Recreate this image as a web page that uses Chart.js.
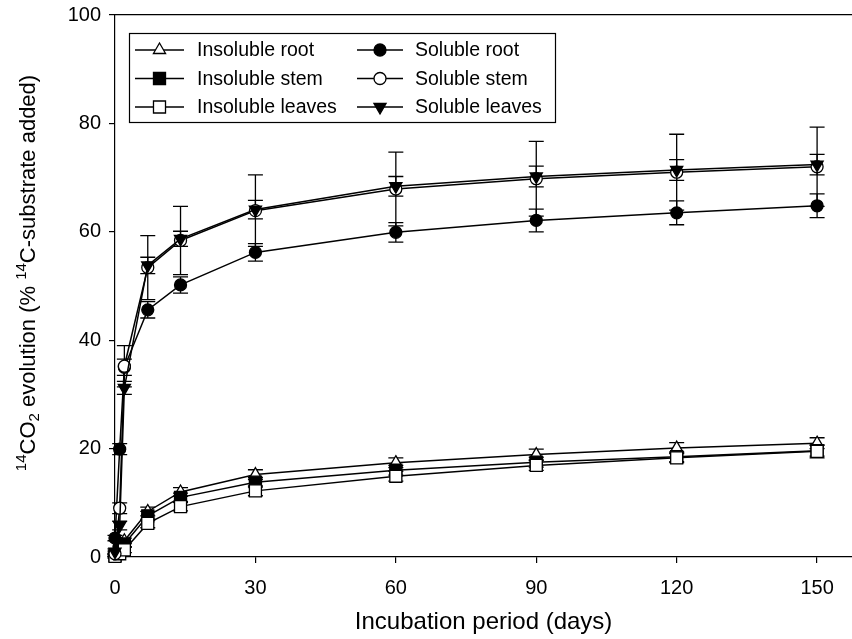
<!DOCTYPE html>
<html><head><meta charset="utf-8">
<style>html,body{margin:0;padding:0;background:#fff;overflow:hidden;width:852px;height:639px;}</style>
<script src="https://cdn.jsdelivr.net/npm/chart.js@4.4.1/dist/chart.umd.min.js"></script>
</head><body>
<canvas id="c" width="862" height="639"></canvas>
<script>
// ---- data ----
const days = [0, 1, 2, 7, 14, 30, 60, 90, 120, 150];
const xTickValues = [0, 30, 60, 90, 120, 150];
const yTickValues = [0, 20, 40, 60, 80, 100];
const seriesNames = ["Insoluble root", "Insoluble stem", "Insoluble leaves", "Soluble root", "Soluble stem", "Soluble leaves"];
const insolubleRoot   = [0.4, 1.6, 3.0, 8.4, 12.0, 15.2, 17.4, 18.9, 20.1, 21.0];
const insolubleStem   = [0.3, 1.2, 2.4, 7.6, 11.0, 13.8, 16.0, 17.5, 18.5, 19.6];
const insolubleLeaves = [0.1, 0.6, 1.3, 6.2, 9.3, 12.2, 14.9, 16.9, 18.3, 19.5];
const solubleRoot     = [3.5, 19.9, 35.0, 45.6, 50.2, 56.2, 59.9, 62.1, 63.5, 64.8];
const solubleStem     = [0.6, 9.0, 35.2, 53.4, 58.4, 63.9, 67.9, 69.8, 71.0, 72.0];
const solubleLeaves   = [1.0, 5.8, 31.2, 53.8, 58.7, 64.1, 68.4, 70.2, 71.4, 72.4];
const insolubleRootErr   = [0.3, 0.4, 0.5, 0.8, 0.8, 0.9, 0.9, 1.0, 1.0, 1.0];
const insolubleStemErr   = [0.3, 0.4, 0.5, 0.8, 0.8, 0.9, 0.9, 0.9, 0.9, 1.0];
const insolubleLeavesErr = [0.3, 0.4, 0.5, 0.8, 0.8, 0.9, 0.9, 0.9, 0.9, 1.2];
const solubleRootErr     = [0.5, 1.0, 1.5, 1.5, 1.5, 1.6, 1.8, 2.1, 2.2, 2.2];
const solubleStemErr     = [0.5, 1.0, 3.8, 5.9, 6.3, 6.6, 6.8, 6.9, 7.0, 7.3];
const solubleLeavesErr   = [0.5, 0.8, 1.2, 1.5, 1.4, 1.7, 1.8, 1.9, 1.9, 1.9];

const FONT = "Arial, 'Liberation Sans', sans-serif";

function pts(vals){ return days.map((d,i)=>({x:d, y:vals[i]})); }

const styles = [
  {pointStyle:'triangle', bg:'#fff', radius:7, rotation:0},
  {pointStyle:'rect', bg:'#000', radius:8.5, rotation:0},
  {pointStyle:'rect', bg:'#fff', radius:8.5, rotation:0},
  {pointStyle:'circle', bg:'#000', radius:6, rotation:0},
  {pointStyle:'circle', bg:'#fff', radius:6, rotation:0},
  {pointStyle:'triangle', bg:'#000', radius:7, rotation:180},
];
const values = [insolubleRoot, insolubleStem, insolubleLeaves, solubleRoot, solubleStem, solubleLeaves];
const errors = [insolubleRootErr, insolubleStemErr, insolubleLeavesErr, solubleRootErr, solubleStemErr, solubleLeavesErr];

const datasets = values.map((v,i)=>({
  label: seriesNames[i],
  data: pts(v),
  err: errors[i],
  showLine: true,
  borderColor:'#000',
  borderWidth:1.5,
  pointStyle: styles[i].pointStyle,
  pointRadius: styles[i].radius,
  pointRotation: styles[i].rotation,
  pointBackgroundColor: styles[i].bg,
  pointBorderColor:'#000',
  pointBorderWidth:1.3,
  clip:false,
  order: 6 - i
}));

function zeroPad(s){ s.paddingLeft = 0; s.paddingRight = 0; s.paddingTop = 0; s.paddingBottom = 0; }

const errorBars = {
  id:'errorBars',
  beforeDatasetsDraw(chart){
    const ctx = chart.ctx, xs = chart.scales.x, ys = chart.scales.y;
    ctx.save();
    ctx.strokeStyle='#000'; ctx.lineWidth=1.3;
    chart.data.datasets.forEach(ds=>{
      ds.data.forEach((p,i)=>{
        const e = ds.err[i];
        const px = xs.getPixelForValue(p.x);
        const y1 = ys.getPixelForValue(p.y + e), y2 = ys.getPixelForValue(p.y - e);
        const cw = 7.5;
        ctx.beginPath();
        ctx.moveTo(px, y1); ctx.lineTo(px, y2);
        ctx.moveTo(px-cw, y1); ctx.lineTo(px+cw, y1);
        ctx.moveTo(px-cw, y2); ctx.lineTo(px+cw, y2);
        ctx.stroke();
      });
    });
    ctx.restore();
  }
};

const boxLegend = {
  id:'boxLegend',
  afterDraw(chart){
    const ctx = chart.ctx;
    const left = 129, top = 33, right = 555, bottom = 122;
    ctx.save();
    ctx.fillStyle='#fff';
    ctx.fillRect(left, top, right-left, bottom-top);
    ctx.strokeStyle='#000'; ctx.lineWidth=1.2;
    ctx.strokeRect(left+0.5, top+0.5, right-left, bottom-top);
    const rowsY = [50, 78.5, 107];
    const cols = [{x0:135, x1:184, tx:197}, {x0:357, x1:403, tx:415}];
    const layout = [[0,3],[1,4],[2,5]];
    ctx.font = "19.5px " + FONT;
    ctx.textBaseline='middle'; ctx.textAlign='left';
    layout.forEach((row,r)=>{
      row.forEach((di,c)=>{
        const ds = chart.data.datasets[di];
        const col = cols[c], y = rowsY[r];
        ctx.strokeStyle='#000'; ctx.lineWidth=1.5;
        ctx.beginPath(); ctx.moveTo(col.x0, y); ctx.lineTo(col.x1, y); ctx.stroke();
        ctx.fillStyle = ds.pointBackgroundColor; ctx.strokeStyle='#000'; ctx.lineWidth=1.3;
        Chart.helpers.drawPoint(ctx, {pointStyle:ds.pointStyle, radius:ds.pointRadius, rotation:ds.pointRotation, borderWidth:1.3}, (col.x0+col.x1)/2, y);
        ctx.fillStyle='#000';
        ctx.fillText(ds.label, col.tx, y+1);
      });
    });
    ctx.restore();
  }
};

const yTitle = {
  id:'yTitle',
  afterDraw(chart){
    const ctx = chart.ctx;
    const big = 22, small = 15;
    const parts = [
      {t:'14', s:'sup'}, {t:'CO'}, {t:'2', s:'sub'}, {t:' evolution (% '}, {t:'14', s:'sup'}, {t:'C-substrate added)'}
    ];
    ctx.save();
    let total = 0;
    parts.forEach(p=>{ ctx.font = (p.s ? small : big) + "px " + FONT; p.w = ctx.measureText(p.t).width; total += p.w; });
    const cx = 27, cy = 273;
    ctx.translate(cx, cy); ctx.rotate(-Math.PI/2);
    ctx.fillStyle='#000'; ctx.textBaseline='alphabetic'; ctx.textAlign='left';
    let x = -total/2;
    const base = 8;
    parts.forEach(p=>{
      ctx.font = (p.s ? small : big) + "px " + FONT;
      let dy = base;
      if (p.s === 'sup') dy = base - 9;
      if (p.s === 'sub') dy = base + 4;
      ctx.fillText(p.t, x, dy);
      x += p.w;
    });
    ctx.restore();
  }
};

const chart = new Chart(document.getElementById('c'), {
  type:'scatter',
  data:{datasets},
  options:{
    responsive:false, animation:false, devicePixelRatio:1,
    layout:{padding:0},
    plugins:{legend:{display:false}, title:{display:false}, tooltip:{enabled:false}},
    scales:{
      x:{
        type:'linear', position:'bottom', min:0, max:157.5,
        afterBuildTicks(s){ s.ticks = xTickValues.map(v=>({value:v})); },
        afterFit(s){ s.height = 82; zeroPad(s); },
        grid:{display:true, drawOnChartArea:false, drawTicks:true, tickLength:6, color:'#000', lineWidth:1.2},
        border:{display:true, color:'#000', width:1.2},
        ticks:{color:'#000', font:{family:FONT, size:20}, padding:13, maxRotation:0, autoSkip:false},
        title:{display:true, text:'Incubation period (days)', color:'#000', font:{family:FONT, size:24}, padding:{top:4, bottom:2}}
      },
      xTop:{
        type:'linear', position:'top', min:0, max:157.5,
        afterFit(s){ s.height = 15; zeroPad(s); },
        grid:{display:false},
        border:{display:true, color:'#000', width:1.2},
        ticks:{display:false}
      },
      y:{
        type:'linear', position:'left', min:0, max:100,
        afterBuildTicks(s){ s.ticks = yTickValues.map(v=>({value:v})); },
        afterFit(s){ s.width = 115; zeroPad(s); },
        grid:{display:true, drawOnChartArea:false, drawTicks:true, tickLength:6, color:'#000', lineWidth:1.2},
        border:{display:true, color:'#000', width:1.2},
        ticks:{color:'#000', font:{family:FONT, size:20}, padding:8}
      }
    }
  },
  plugins:[errorBars, boxLegend, yTitle]
});
</script>
</body></html>
